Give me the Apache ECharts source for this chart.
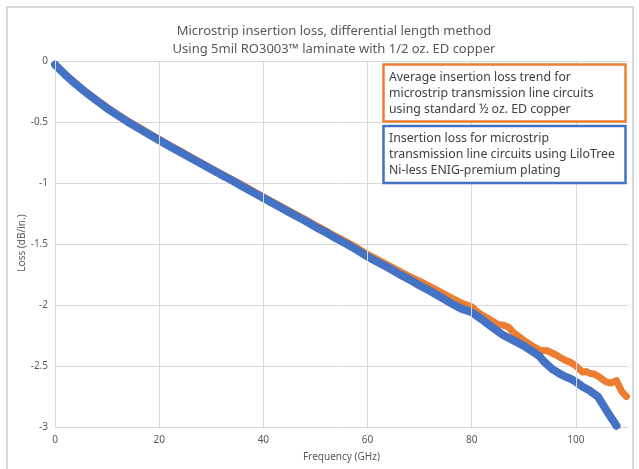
<!DOCTYPE html>
<html>
<head>
<meta charset="utf-8">
<script src="https://cdn.jsdelivr.net/npm/echarts@6/dist/echarts.min.js"></script>
<style>
html,body{margin:0;padding:0;background:#fff;}
#chart{width:639px;height:469px;}
</style>
</head>
<body>
<div id="chart"></div>
<script>
const titleLines = ['Microstrip insertion loss, differential length method', 'Using 5mil RO3003\u2122 laminate with 1/2 oz. ED copper'];
const xAxisName = 'Frequency (GHz)';
const yAxisName = 'Loss (dB/in.)';
const xGridTicks = [0, 20, 40, 60, 80, 100];

const orangeName = 'Average insertion loss trend for\nmicrostrip transmission line circuits\nusing standard \u00bd oz. ED copper';
const blueName = 'Insertion loss for microstrip\ntransmission line circuits using LiloTree\nNi-less ENIG-premium plating';

const freqOrange = [0, 2, 4, 6, 8, 10, 12, 14, 16, 18, 20, 22, 24, 26, 28, 30, 32, 34, 36, 38, 40, 42, 44, 46, 48, 50, 52, 54, 56, 58, 60, 62, 64, 66, 68, 70, 72, 74, 76, 78, 80, 81.5, 83.4, 85, 86, 87, 88, 90, 92, 93, 94.5, 96.2, 97, 98.1, 99, 100, 101.3, 102, 102.6, 103.5, 104.5, 105.8, 106.7, 107.8, 108.8, 109.7];
const lossOrange = [-0.03, -0.11, -0.185, -0.255, -0.318, -0.38, -0.437, -0.492, -0.542, -0.592, -0.642, -0.69, -0.737, -0.785, -0.832, -0.88, -0.926, -0.972, -1.018, -1.066, -1.113, -1.16, -1.206, -1.253, -1.298, -1.346, -1.392, -1.44, -1.485, -1.532, -1.585, -1.63, -1.675, -1.72, -1.765, -1.805, -1.85, -1.895, -1.94, -1.985, -2.014, -2.07, -2.117, -2.16, -2.165, -2.18, -2.225, -2.29, -2.345, -2.37, -2.375, -2.41, -2.43, -2.456, -2.47, -2.5, -2.55, -2.545, -2.56, -2.565, -2.59, -2.63, -2.64, -2.62, -2.71, -2.75];

const freqBlue = [0, 2, 4, 6, 8, 10, 12, 14, 16, 18, 20, 22, 24, 26, 28, 30, 32, 34, 36, 38, 40, 42, 44, 46, 48, 50, 52, 54, 56, 58, 60, 62, 64, 66, 68, 70, 72, 74, 76, 78, 80, 82, 84, 86, 88, 90, 92, 93, 94, 95.6, 97, 98.1, 99, 100, 101.3, 102.6, 104.2, 105.1, 106.4, 107.8];
const lossBlue = [-0.03, -0.115, -0.19, -0.26, -0.325, -0.388, -0.445, -0.5, -0.55, -0.6, -0.65, -0.698, -0.745, -0.793, -0.84, -0.888, -0.935, -0.98, -1.028, -1.075, -1.123, -1.17, -1.217, -1.265, -1.31, -1.36, -1.405, -1.455, -1.5, -1.55, -1.604, -1.65, -1.695, -1.745, -1.79, -1.84, -1.885, -1.935, -1.985, -2.03, -2.06, -2.12, -2.185, -2.246, -2.29, -2.335, -2.39, -2.42, -2.47, -2.53, -2.565, -2.59, -2.605, -2.63, -2.67, -2.7, -2.75, -2.81, -2.9, -2.99];

const orangeData = freqOrange.map((f, i) => [f, lossOrange[i]]);
const blueData = freqBlue.map((f, i) => [f, lossBlue[i]]);

const FONT = 'Noto Sans';
const chart = echarts.init(document.getElementById('chart'), null, {renderer: 'canvas'});
chart.setOption({
  animation: false,
  backgroundColor: '#ffffff',
  title: {
    text: titleLines.join('\n'),
    left: 329,
    top: 17,
    textAlign: 'center',
    textStyle: {fontFamily: FONT, fontSize: 13, fontWeight: 'normal', color: '#595959', lineHeight: 18}
  },
  grid: {left: 55, top: 61, right: 11, bottom: 42},
  xAxis: {
    type: 'value', min: 0, max: 110, interval: 20,
    name: xAxisName, nameLocation: 'middle', nameGap: 25,
    nameTextStyle: {fontFamily: FONT, fontSize: 10, color: '#595959'},
    axisLine: {show: true, lineStyle: {color: '#d9d9d9'}},
    axisTick: {show: false},
    axisLabel: {fontFamily: FONT, fontSize: 10, color: '#595959', margin: 8, showMaxLabel: false},
    splitLine: {show: false}
  },
  yAxis: {
    type: 'value', min: -3, max: 0, interval: 0.5,
    axisLine: {show: false},
    axisTick: {show: false},
    axisLabel: {fontFamily: FONT, fontSize: 10, color: '#595959', margin: 7},
    splitLine: {show: true, lineStyle: {color: '#d9d9d9', width: 1}}
  },
  series: [
    {
      type: 'scatter', data: [], silent: true, z: 1,
      markLine: {
        silent: true, symbol: 'none', label: {show: false},
        lineStyle: {color: '#d9d9d9', type: 'solid', width: 1},
        data: xGridTicks.map(v => ({xAxis: v}))
      }
    },
    {
      name: orangeName, type: 'line', data: orangeData, showSymbol: false, z: 3,
      lineStyle: {color: '#ED7D31', width: 7, join: 'round', cap: 'round'}
    },
    {
      name: blueName, type: 'line', data: blueData, showSymbol: false, z: 4,
      lineStyle: {color: '#4472C4', width: 8, join: 'round', cap: 'round'}
    }
  ],
  graphic: [
    {type: 'rect', shape: {x: 7, y: 7, width: 626, height: 480}, style: {fill: 'none', stroke: '#d9d9d9', lineWidth: 2}, silent: true},
    {type: 'text', x: 22, y: 243, rotation: Math.PI / 2, style: {text: yAxisName, fill: '#595959', font: '10px "Noto Sans"', align: 'center', verticalAlign: 'middle'}},
    {type: 'rect', shape: {x: 383.5, y: 64.5, width: 242, height: 57}, style: {fill: '#ffffff', stroke: '#ED7D31', lineWidth: 2.5}, z: 10},
    {type: 'text', x: 389, y: 69, style: {text: orangeName, fill: '#404040', font: '12.3px "Noto Sans"', lineHeight: 16}, z: 11},
    {type: 'rect', shape: {x: 383.5, y: 126, width: 242, height: 57}, style: {fill: '#ffffff', stroke: '#4472C4', lineWidth: 2.5}, z: 10},
    {type: 'text', x: 389, y: 130, style: {text: blueName, fill: '#404040', font: '12.3px "Noto Sans"', lineHeight: 16}, z: 11}
  ]
});
</script>
</body>
</html>
